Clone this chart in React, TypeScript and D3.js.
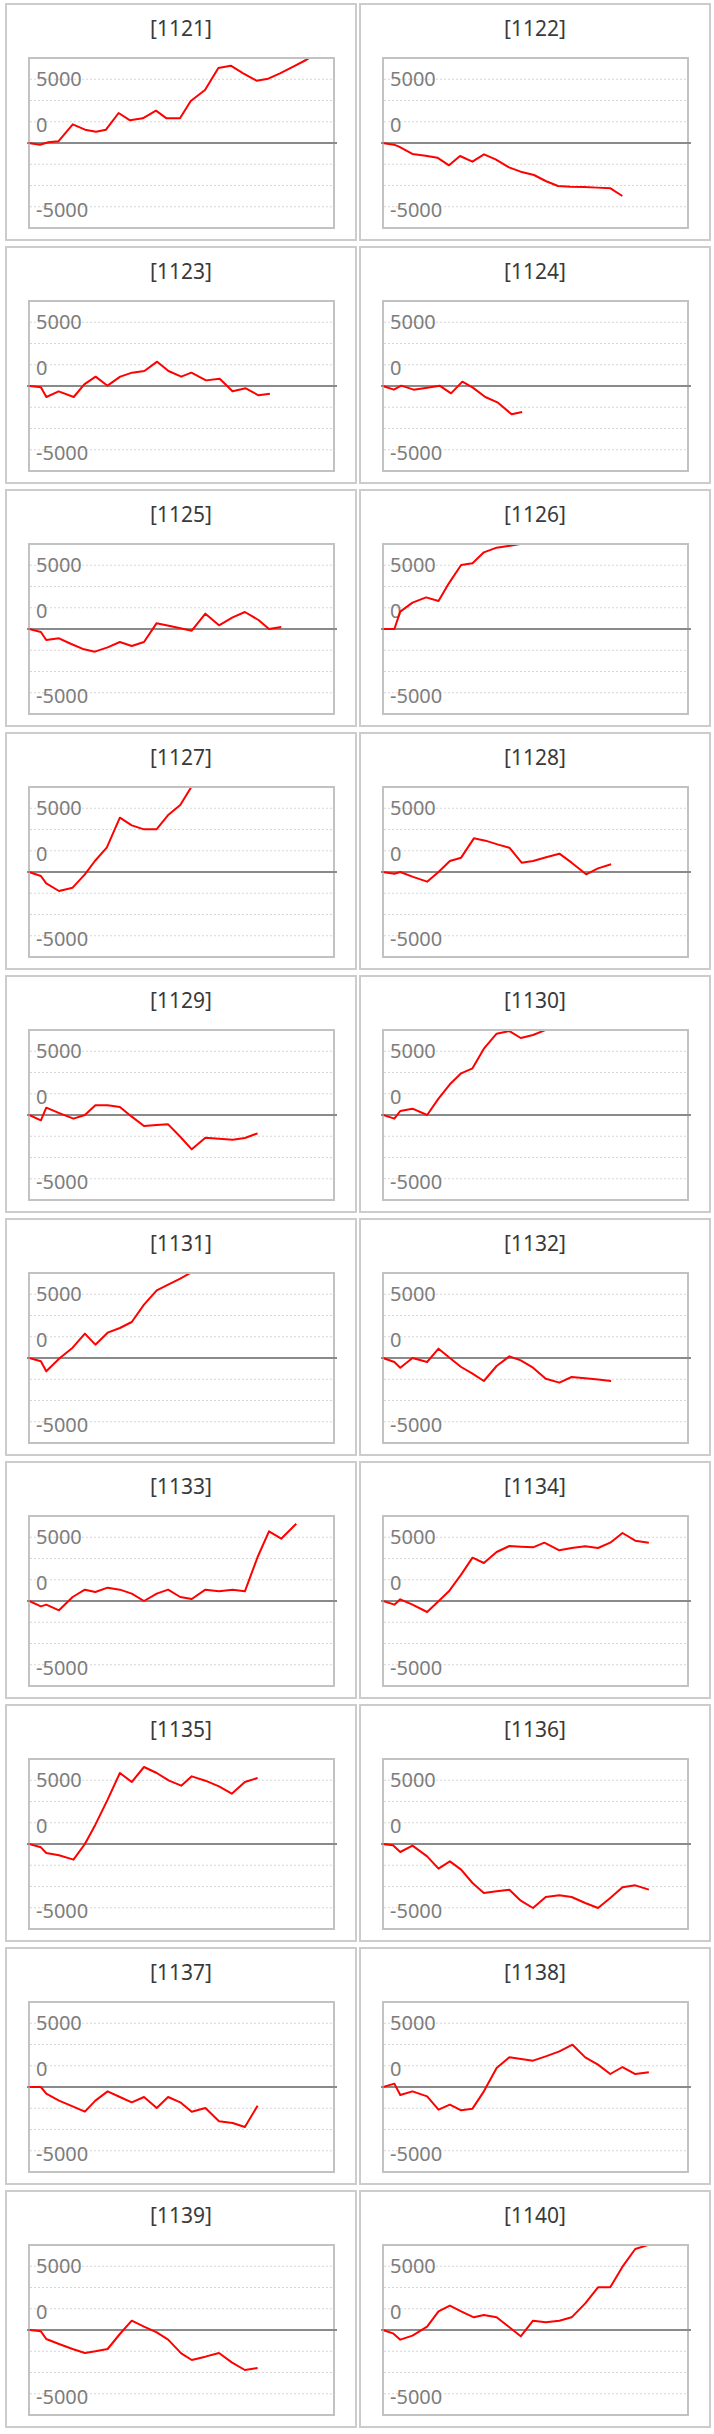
import React from "react";
import * as d3 from "d3";

type Pt = [number, number];

const titles: string[] = [
  "[1121]", "[1122]", "[1123]", "[1124]", "[1125]", "[1126]", "[1127]", "[1128]", "[1129]", "[1130]",
  "[1131]", "[1132]", "[1133]", "[1134]", "[1135]", "[1136]", "[1137]", "[1138]", "[1139]", "[1140]",
];

// [step, value]
const s1121: Pt[] = [[0,0],[0.88,-157],[1.55,63],[2.35,157],[3.5,1757],[4.48,1255],[5.36,1066],[6.16,1255],[7.17,2823],[8.08,2133],[9.1,2321],[10.16,3043],[11.0,2321],[12.08,2321],[12.94,3952],[14.08,4988],[15.15,7058],[16.14,7278],[17.14,6557],[18.2,5866],[19.14,6055],[20.08,6557],[21.14,7184],[22.16,7811],[23.1,8500]];
const s1122: Pt[] = [[0,0],[0.88,-157],[1.28,-345],[2.35,-1035],[3.41,-1192],[4.35,-1380],[5.28,-2101],[6.16,-1223],[7.15,-1757],[8.08,-1066],[9.01,-1537],[10.08,-2290],[11.01,-2698],[12.08,-3011],[13.01,-3576],[14.0,-4047],[15.01,-4110],[16.1,-4140],[17.1,-4200],[18.2,-4266],[19.15,-4988]];
const s1123: Pt[] = [[0,0],[0.95,-125],[1.39,-1035],[2.37,-500],[3.58,-1035],[4.42,157],[5.33,880],[6.28,30],[7.3,880],[8.25,1255],[9.23,1410],[10.25,2290],[11.16,1410],[12.18,880],[12.99,1255],[14.16,530],[15.26,690],[16.28,-500],[17.34,-220],[18.36,-880],[19.27,-720]];
const s1124: Pt[] = [[0,0],[0.87,-345],[1.46,31],[2.45,-345],[3.54,-157],[4.53,31],[5.44,-690],[6.35,408],[7.19,-157],[8.18,-1035],[9.2,-1568],[10.29,-2666],[11.13,-2446]];
const s1125: Pt[] = [[0,0],[0.95,-282],[1.38,-1035],[2.4,-878],[3.38,-1411],[4.4,-1913],[5.27,-2133],[6.29,-1725],[7.27,-1223],[8.22,-1600],[9.2,-1223],[10.2,533],[11.27,282],[12.29,31],[13.02,-157],[14.11,1443],[15.2,345],[16.29,1098],[17.27,1600],[18.36,847],[19.2,0],[20.18,188]];
const s1126: Pt[] = [[0,0],[0.91,0],[1.38,1631],[2.36,2478],[3.45,2980],[4.44,2635],[5.27,4298],[6.25,6023],[7.16,6180],[8.07,7215],[9.09,7655],[10.18,7843],[11.2,8050]];
const s1127: Pt[] = [[0,0],[0.95,-376],[1.38,-1066],[2.4,-1788],[3.49,-1474],[4.47,-220],[5.27,1035],[6.22,2290],[7.27,5113],[8.22,4392],[9.2,4015],[10.2,4015],[11.11,5333],[12.1,6306],[13.3,8600]];
const s1128: Pt[] = [[0,0],[0.91,-157],[1.38,0],[2.4,-455],[3.53,-910],[4.44,0],[5.35,1035],[6.25,1349],[7.27,3168],[8.2,2950],[9.15,2600],[10.11,2290],[11.09,878],[12.0,1035],[13.05,1380],[14.11,1725],[15.09,878],[16.25,-220],[17.2,345],[18.25,722]];
const s1129: Pt[] = [[0,0],[0.95,-502],[1.38,690],[2.47,157],[3.56,-345],[4.47,0],[5.31,910],[6.29,910],[7.27,753],[8.22,-157],[9.2,-1035],[10.2,-950],[11.13,-878],[12.1,-2050],[13.02,-3231],[14.11,-2133],[15.2,-2227],[16.29,-2321],[17.27,-2164],[18.29,-1725]];
const s1130: Pt[] = [[0,0],[0.91,-345],[1.38,376],[2.36,596],[3.53,0],[4.44,1537],[5.35,2886],[6.25,3921],[7.16,4392],[8.07,6243],[9.09,7655],[10.11,7900],[11.02,7247],[12.0,7529],[13.1,8050]];
const s1131: Pt[] = [[0,0],[0.95,-314],[1.38,-1255],[2.47,0],[3.49,972],[4.47,2290],[5.31,1255],[6.29,2384],[7.27,2823],[8.22,3388],[9.2,5019],[10.22,6368],[11.13,6902],[12.1,7466],[13.2,8200]];
const s1132: Pt[] = [[0,0],[0.91,-376],[1.38,-910],[2.36,0],[3.53,-376],[4.44,878],[5.35,0],[6.25,-847],[7.16,-1474],[8.07,-2164],[9.09,-753],[10.11,157],[11.02,-220],[12.0,-910],[13.02,-1945],[14.11,-2321],[15.09,-1788],[16.18,-1900],[17.2,-2030],[18.25,-2164]];
const s1133: Pt[] = [[0,0],[0.95,-502],[1.38,-345],[2.4,-878],[3.49,376],[4.47,1066],[5.31,847],[6.29,1255],[7.27,1066],[8.22,690],[9.2,0],[10.22,690],[11.13,1066],[12.1,376],[13.02,188],[14.11,1066],[15.2,910],[16.29,1066],[17.27,910],[18.29,4141],[19.2,6557],[20.18,5866],[21.38,7278]];
const s1134: Pt[] = [[0,0],[0.91,-345],[1.38,157],[2.36,-345],[3.53,-1035],[4.44,-31],[5.27,910],[6.25,2478],[7.16,4078],[8.07,3576],[9.09,4611],[10.11,5176],[11.05,5110],[12.0,5050],[12.91,5490],[14.11,4768],[15.09,4988],[16.18,5145],[17.2,4988],[18.18,5490],[19.16,6400],[20.18,5678],[21.27,5490]];
const s1135: Pt[] = [[0,0],[0.95,-314],[1.38,-847],[2.4,-1066],[3.56,-1474],[4.47,0],[5.31,1820],[6.29,4172],[7.27,6682],[8.22,5835],[9.2,7247],[10.22,6682],[11.2,5960],[12.18,5490],[13.02,6368],[14.11,5960],[15.2,5427],[16.22,4737],[17.27,5835],[18.29,6212]];
const s1136: Pt[] = [[0,0],[0.8,-125],[1.38,-753],[2.36,-157],[3.53,-1160],[4.44,-2321],[5.35,-1631],[6.25,-2415],[7.16,-3670],[8.07,-4611],[9.09,-4455],[10.11,-4298],[11.02,-5333],[12.0,-6023],[13.02,-4988],[14.11,-4831],[15.09,-4988],[16.18,-5553],[17.2,-6023],[18.18,-5082],[19.16,-4078],[20.18,-3890],[21.27,-4298]];
const s1137: Pt[] = [[0,0],[0.95,0],[1.38,-627],[2.4,-1286],[3.49,-1819],[4.47,-2321],[5.31,-1286],[6.29,-408],[7.27,-941],[8.22,-1443],[9.2,-941],[10.22,-1976],[11.13,-941],[12.1,-1443],[13.02,-2321],[14.11,-1976],[15.2,-3231],[16.29,-3388],[17.27,-3764],[18.29,-1757]];
const s1138: Pt[] = [[0,0],[0.91,314],[1.38,-753],[2.36,-408],[3.53,-878],[4.44,-2133],[5.35,-1663],[6.25,-2196],[7.16,-2039],[8.07,-408],[9.09,1788],[10.11,2792],[11.05,2630],[12.0,2478],[13.02,2886],[14.11,3357],[15.16,3984],[16.18,2792],[17.2,2102],[18.18,1223],[19.16,1882],[20.18,1223],[21.27,1380]];
const s1139: Pt[] = [[0,0],[0.95,-125],[1.38,-847],[2.4,-1317],[3.49,-1788],[4.47,-2164],[5.31,-2008],[6.29,-1788],[7.27,-376],[8.22,878],[9.2,314],[10.22,-220],[11.13,-910],[12.18,-2196],[13.02,-2823],[14.11,-2509],[15.2,-2164],[16.22,-3043],[17.27,-3764],[18.29,-3576]];
const s1140: Pt[] = [[0,0],[0.8,-314],[1.38,-910],[2.36,-533],[3.53,314],[4.44,1757],[5.35,2290],[6.25,1757],[7.27,1192],[8.07,1411],[9.09,1192],[10.11,251],[11.02,-596],[12.0,878],[13.02,722],[14.11,878],[15.09,1192],[16.18,2510],[17.2,4015],[18.18,4015],[19.16,5960],[20.18,7623],[21.6,8150]];

const seriesList: Pt[][] = [
  s1121, s1122, s1123, s1124, s1125, s1126, s1127, s1128, s1129, s1130,
  s1131, s1132, s1133, s1134, s1135, s1136, s1137, s1138, s1139, s1140,
];

const gridValues: number[] = [6000, 4000, 2000, -2000, -4000, -6000];
const tickTexts: string[] = ["5000", "0", "-5000"];
const tickAt: number[] = [6000, 2000, -6000];

// layout
const W = 714;
const H = 2434;
const colX = [5, 359];
const rowTop = 3;
const rowPitch = 243;
const cellW = 352;
const cellH = 238;
const plotL = 24;
const plotR = 329;
const plotT = 55;
const plotB = 225;
const tickDy = [7, 10.5, 10.5];

const x = d3.scaleLinear().domain([0, 24]).range([plotL, plotL + 300]);
const y = d3.scaleLinear().domain([-8000, 8000]).range([plotB, plotT]);
const line = d3
  .line<Pt>()
  .x((d) => x(d[0]))
  .y((d) => y(d[1]));

const FONT = "'Noto Sans', 'Open Sans', sans-serif";

function Panel({ title, data, tx, ty }: { title: string; data: Pt[]; tx: number; ty: number }) {
  return (
    <g transform={`translate(${tx},${ty})`}>
      <rect x={1} y={1} width={cellW - 2} height={cellH - 2} fill="#fff" stroke="#cccccc" strokeWidth={2} />
      <text x={cellW / 2} y={32.7} textAnchor="middle" fontFamily={FONT} fontSize={21} fill="#3a3a3a">
        {title}
      </text>
      {gridValues.map((g) => (
        <line
          key={g}
          x1={plotL + 1}
          x2={plotR - 1}
          y1={y(g)}
          y2={y(g)}
          stroke="#d6d6d6"
          strokeWidth={1}
          strokeDasharray="2 2"
        />
      ))}
      {tickTexts.map((t, i) => (
        <text
          key={t}
          x={31}
          y={y(tickAt[i]) + tickDy[i]}
          fontFamily={FONT}
          fontSize={20}
          fill="#7d7d7d"
        >
          {t}
        </text>
      ))}
      <rect
        x={plotL}
        y={plotT}
        width={plotR - plotL}
        height={plotB - plotT}
        fill="none"
        stroke="#c2c2c2"
        strokeWidth={2}
      />
      <line x1={plotL - 2} x2={plotR + 3} y1={y(0)} y2={y(0)} stroke="#8a8a8a" strokeWidth={2} />
      <path
        d={line(data) || ""}
        fill="none"
        stroke="#ff0000"
        strokeWidth={2}
        strokeLinejoin="round"
        clipPath="url(#plotClip)"
      />
    </g>
  );
}

export default function App() {
  return (
    <div style={{ position: "absolute", left: 0, top: 0 }}>
      <svg width={W} height={H} viewBox={`0 0 ${W} ${H}`} style={{ display: "block", background: "#fff" }}>
        <defs>
          <clipPath id="plotClip">
            <rect x={plotL + 1} y={plotT + 1} width={plotR - plotL - 2} height={plotB - plotT - 2} />
          </clipPath>
        </defs>
        <rect x={0} y={0} width={W} height={H} fill="#fff" />
        {titles.map((t, i) => (
          <Panel
            key={t}
            title={t}
            data={seriesList[i]}
            tx={colX[i % 2]}
            ty={rowTop + rowPitch * Math.floor(i / 2)}
          />
        ))}
      </svg>
    </div>
  );
}
